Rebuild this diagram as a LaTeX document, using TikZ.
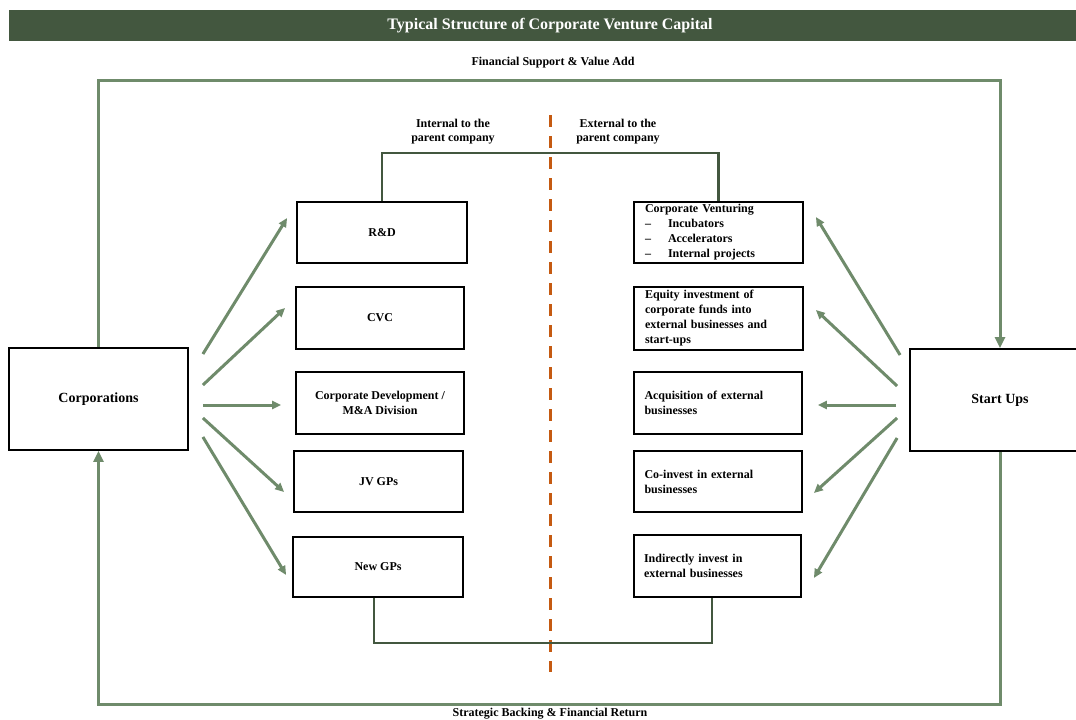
\documentclass[tikz,border=0pt]{standalone}
\usepackage{fontspec}
\setmainfont{Liberation Serif}
\usetikzlibrary{arrows.meta}

\definecolor{barGreen}{HTML}{43573F}
\definecolor{sageGreen}{HTML}{6F8B6B}
\definecolor{divOrange}{HTML}{C55A11}

\newcommand{\cvline}[1]{\makebox[23pt][l]{--}#1}

\tikzset{
  box/.style={draw=black, line width=1.8pt, fill=white, inner sep=0pt,
    font=\bfseries\fontsize{12}{15}\selectfont},
  leftbox/.style={box, align=center},
  rightbox/.style={box, align=left, text width=147pt},
  bigbox/.style={box, minimum width=179pt, minimum height=102pt,
    font=\bfseries\fontsize{14}{16}\selectfont},
  lbl/.style={inner sep=0pt, align=center, font=\bfseries\fontsize{12}{14}\selectfont},
  arr/.style={draw=sageGreen, line width=3pt, -{Triangle[length=9pt,width=8pt]}},
  loopline/.style={draw=sageGreen, line width=3pt, -{Triangle[length=11pt,width=10pt]}},
  bracket/.style={draw=barGreen, line width=2.5pt},
  divider/.style={draw=divOrange, line width=3pt, dash pattern=on 12pt off 9pt}
}

\begin{document}
\begin{tikzpicture}[x=1pt, y=-1pt]
  \useasboundingbox (0,0) rectangle (1076,720);

  % title bar
  \fill[barGreen] (9,10) rectangle (1076,41);
  \node[text=white, font=\bfseries\fontsize{16}{18}\selectfont] (title) at (550,26)
    {Typical Structure of Corporate Venture Capital};

  % main parties
  \node[bigbox] (corp) at (98.5,399) {Corporations};
  \node[bigbox, minimum width=180pt] (su) at (1000,400) {Start Ups};

  % internal to the parent company
  \node[leftbox, minimum width=170pt, minimum height=61pt] (rd) at (382,232.5) {R\&D};
  \node[leftbox, minimum width=168pt, minimum height=62pt] (cvc) at (380,318) {CVC};
  \node[leftbox, minimum width=168pt, minimum height=62pt] (cdev) at (380,403)
    {Corporate Development /\\M\&A Division};
  \node[leftbox, minimum width=169pt, minimum height=61pt] (jv) at (378.5,481.5) {JV GPs};
  \node[leftbox, minimum width=170pt, minimum height=60pt] (ngp) at (378,567) {New GPs};

  % external to the parent company
  \node[rightbox, minimum width=169pt, minimum height=61pt] (cv) at (718.5,232.5)
    {Corporate Venturing\\\cvline{Incubators}\\\cvline{Accelerators}\\\cvline{Internal projects}};
  \node[rightbox, minimum width=169pt, minimum height=63pt] (eq) at (718.5,318.5)
    {Equity investment of\\corporate funds into\\external businesses and\\start-ups};
  \node[rightbox, minimum width=168pt, minimum height=62pt] (acq) at (718,403)
    {Acquisition of external\\businesses};
  \node[rightbox, minimum width=168pt, minimum height=61pt] (co) at (718,481.5)
    {Co-invest in external\\businesses};
  \node[rightbox, minimum width=167pt, minimum height=62pt] (ind) at (717.5,566)
    {Indirectly invest in\\external businesses};

  % labels
  \node[lbl] (fsva) at (553,63) {Financial Support \& Value Add};
  \node[lbl, anchor=base] (sbfr) at (550,716) {Strategic Backing \& Financial Return};
  \node[lbl] (intlbl) at (453,132) {Internal to the\\parent company};
  \node[lbl] (extlbl) at (618,132) {External to the\\parent company};

  % divider
  \coordinate (divtop) at (550,115);
  \coordinate (divbot) at (550,672);
  \draw[divider] (divtop) -- (divbot);

  % brackets
  \coordinate (brtop) at (550,153);
  \coordinate (brbot) at (550,643);
  \draw[bracket] (rd.north) |- (brtop) -| (cv.north);
  \draw[bracket] ([xshift=-4pt]ngp.south) |- (brbot) -| ([xshift=-5.5pt]ind.south);

  % outer loop
  \coordinate (looptop) at (550,80);
  \coordinate (loopbot) at (550,704);
  \draw[loopline] (corp.north) |- (looptop) -| (su.north);
  \draw[loopline] (su.south) |- (loopbot) -| (corp.south);

  % corporations to vehicles
  \draw[arr] ([shift={(14,-45)}]corp.east) -- ([shift={(-9,-14.5)}]rd.west);
  \draw[arr] ([shift={(14,-14)}]corp.east) -- ([shift={(-10,-10)}]cvc.west);
  \draw[arr] ([shift={(14,6)}]corp.east) -- ([shift={(-14,2)}]cdev.west);
  \draw[arr] ([shift={(14,19)}]corp.east) -- ([shift={(-9,10.5)}]jv.west);
  \draw[arr] ([shift={(14,38)}]corp.east) -- ([shift={(-6,8)}]ngp.west);

  % start ups to vehicles
  \draw[arr] ([shift={(-9,-45)}]su.west) -- ([shift={(12,-15.5)}]cv.east);
  \draw[arr] ([shift={(-12,-14)}]su.west) -- ([shift={(12,-8.5)}]eq.east);
  \draw[arr] ([shift={(-13,5)}]su.west) -- ([shift={(15,2)}]acq.east);
  \draw[arr] ([shift={(-12,18)}]su.west) -- ([shift={(11,11.5)}]co.east);
  \draw[arr] ([shift={(-12,38)}]su.west) -- ([shift={(12,12)}]ind.east);
\end{tikzpicture}
\end{document}
